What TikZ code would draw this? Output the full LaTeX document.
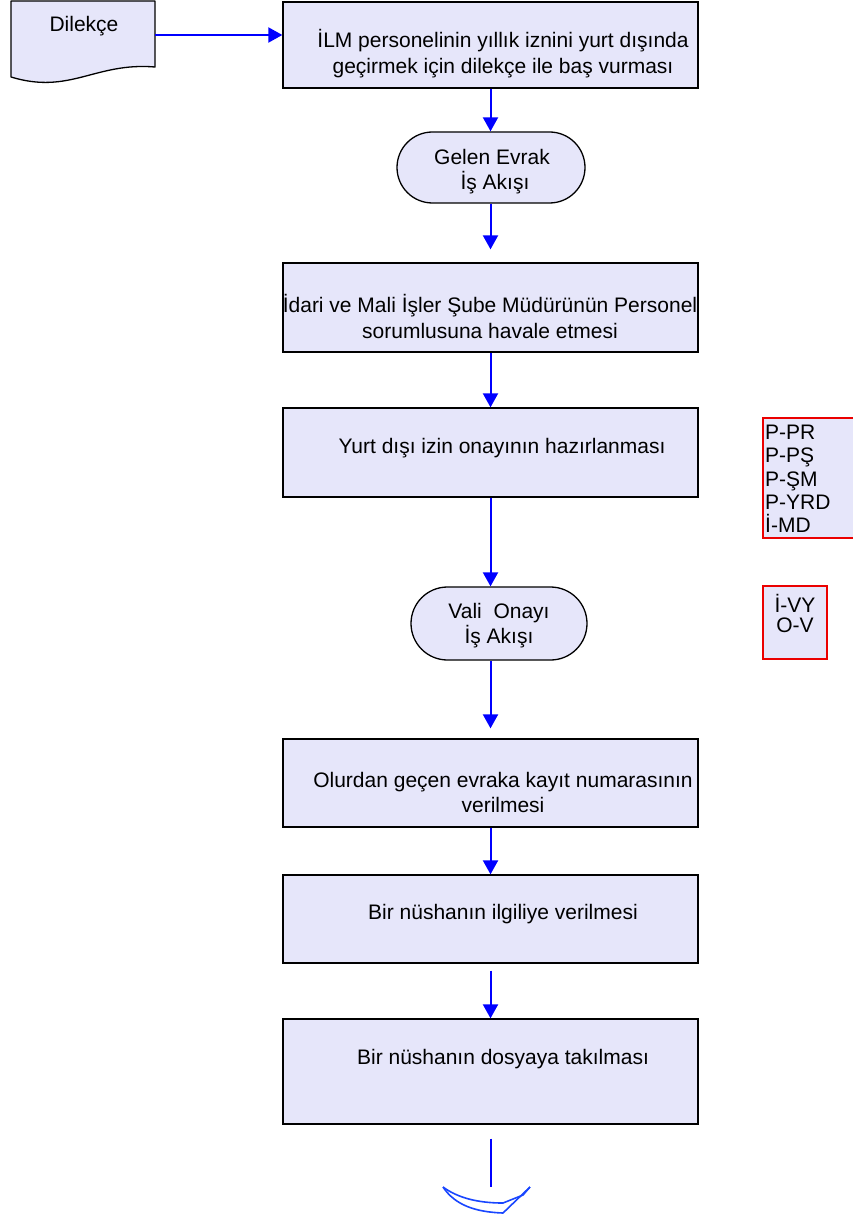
\documentclass[tikz,border=0pt]{standalone}
\usepackage{fontspec}
\setmainfont{Liberation Sans}
\usetikzlibrary{arrows.meta,shapes.misc,shadows,calc}
\definecolor{lav}{RGB}{230,230,250}
\definecolor{flowblue}{RGB}{0,0,255}
\definecolor{endblue}{RGB}{25,70,255}
\definecolor{redline}{RGB}{235,0,0}
\begin{document}
\begin{tikzpicture}[x=1pt,y=-1pt,
  pbox/.style={draw=black, line width=1.3pt, fill=lav, rectangle, minimum width=415pt, inner sep=0pt,
    drop shadow={shadow xshift=1.3pt, shadow yshift=-1.3pt, fill=black!60, opacity=1}},
  pstad/.style={draw=black, line width=1.3pt, fill=lav, rounded rectangle, inner sep=0pt},
  ptext/.style={align=center, font=\fontsize{21}{26}\selectfont, inner sep=0pt},
  rbox/.style={draw=redline, line width=1.3pt, fill=lav},
  rtext/.style={font=\fontsize{21}{23.3}\selectfont, inner sep=0pt},
  flow/.style={draw=flowblue, line width=2pt, -{Triangle[length=14pt,width=15pt]}},
  endline/.style={draw=flowblue, line width=2pt},
  conn/.style={draw=endblue, line width=1.6pt, line join=round}
]
\useasboundingbox (0,0) rectangle (852,1214);

% Document shape
\node[minimum width=144pt, minimum height=70pt, inner sep=0pt] (dil) at (83,35) {};
\filldraw[fill=lav, draw=black, line width=1.3pt, line join=round]
  (11,1) -- (155,1) -- (155,67) .. controls (95,62) and (70,95) .. (11,77) -- cycle;
\node[ptext] (diltext) at (84,26) {Dilekçe};

% Boxes
\node[pbox, minimum height=86pt] (b1) at (490.5,45) {};
\node[ptext] (t1) at (503,54) {İLM personelinin yıllık iznini yurt dışında\\geçirmek için dilekçe ile baş vurması};

\node[pstad, minimum width=188pt, minimum height=71pt] (g) at (491,167.5) {};
\node[ptext, font=\fontsize{21}{25}\selectfont] (tg) at (492,172) {Gelen Evrak\\ \ İş Akışı};

\node[pbox, minimum height=89pt] (b2) at (490.5,307.5) {};
\node[ptext] (t2) at (490,316) {İdari ve Mali İşler Şube Müdürünün Personel\\sorumlusuna havale etmesi};

\node[pbox, minimum height=89pt] (b3) at (490.5,452.5) {};
\node[ptext] (t3) at (502,448) {Yurt dışı izin onayının hazırlanması};

\node[pstad, minimum width=176pt, minimum height=73pt] (v) at (499,623.5) {};
\node[ptext, font=\fontsize{21}{25}\selectfont] (tv) at (499,626) {Vali\ \ Onayı\\İş Akışı};

\node[pbox, minimum height=88pt] (b4) at (490.5,783) {};
\node[ptext, font=\fontsize{21}{25}\selectfont] (t4) at (503,792) {Olurdan geçen evraka kayıt numarasının\\ verilmesi};

\node[pbox, minimum height=88pt] (b5) at (490.5,919) {};
\node[ptext] (t5) at (503,914) {Bir nüshanın ilgiliye verilmesi};

\node[pbox, minimum height=105pt] (b6) at (490.5,1071.5) {};
\node[ptext] (t6) at (503,1059) {Bir nüshanın dosyaya takılması};

% Red boxes
\node[rbox, minimum width=95pt, minimum height=120pt, inner sep=0pt] (ra) at (810.5,478) {};
\node[rtext, align=left, anchor=north west] (rat) at (765,425) {P-PR\\P-PŞ\\P-ŞM\\P-YRD\\İ-MD};
\node[rbox, minimum width=64pt, minimum height=73pt, inner sep=0pt] (rb) at (795,622.5) {};
\node[rtext, align=center, font=\fontsize{21}{20}\selectfont] (rbt) at (795,613) {İ-VY\\O-V};

% Connectors
\draw[flow] (dil.east) -- (dil.east -| b1.west);
\draw[flow] (b1.south) -- (b1.south |- g.north);
\draw[flow, shorten >=13pt] (b1.south |- g.south) -- (b2.north);
\draw[flow] (b2.south) -- (b3.north);
\draw[flow] (b3.south) -- (b3.south |- v.north);
\draw[flow, shorten >=10pt] (b4.north |- v.south) -- (b4.north);
\draw[flow] (b4.south) -- (b5.north);
\draw[flow, shorten <=7pt] (b5.south) -- (b6.north);
\coordinate (cend) at (490.5,1187);
\draw[endline, shorten <=14pt] (b6.south) -- (cend);

% Off-page connector (bottom part)
\coordinate (cl) at (443,1187);
\coordinate (cr) at (530,1187);
\draw[conn] (cl) .. controls (455,1205) and (475,1212) .. (503,1213) -- (cr);
\draw[conn] (cl) .. controls (458,1198) and (478,1203) .. (503,1203) -- (523,1195) -- (cr);
\end{tikzpicture}
\end{document}
